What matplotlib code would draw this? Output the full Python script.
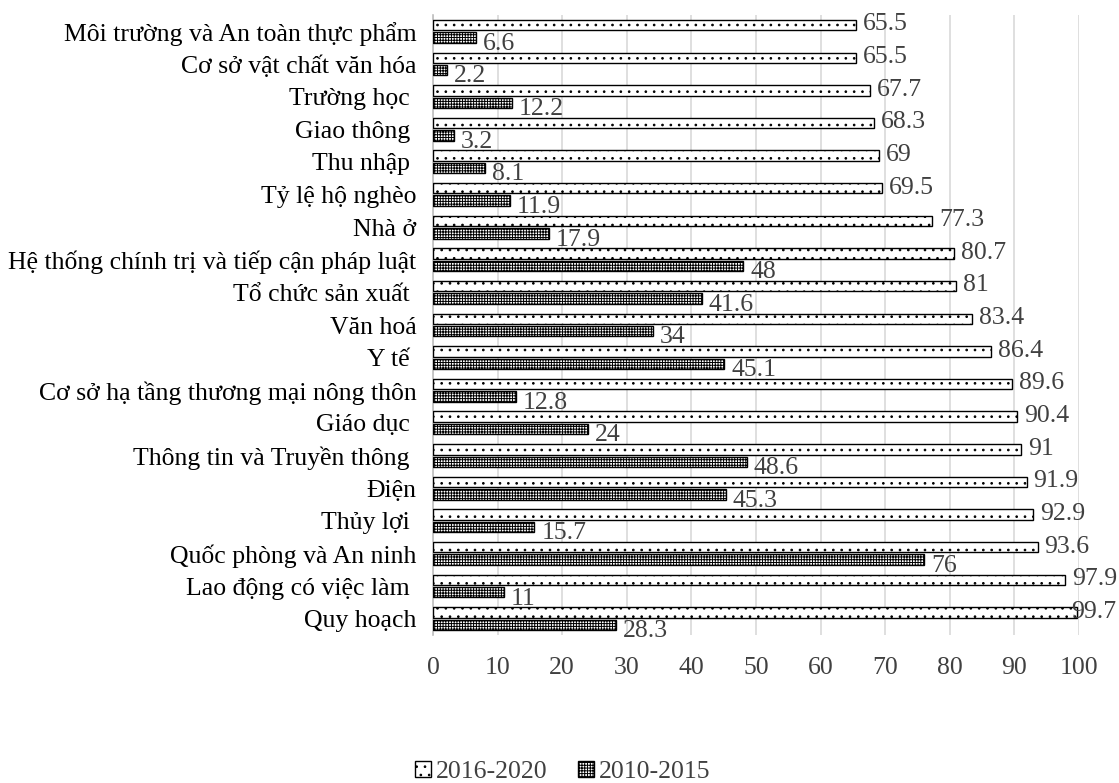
import matplotlib
matplotlib.use("Agg")
import matplotlib.pyplot as plt
from matplotlib.patches import Patch
import numpy as np

categories = [
    "Môi trường và An toàn thực phẩm",
    "Cơ sở vật chất văn hóa",
    "Trường học ",
    "Giao thông ",
    "Thu nhập ",
    "Tỷ lệ hộ nghèo",
    "Nhà ở",
    "Hệ thống chính trị và tiếp cận pháp luật",
    "Tổ chức sản xuất ",
    "Văn hoá",
    "Y tế ",
    "Cơ sở hạ tầng thương mại nông thôn",
    "Giáo dục ",
    "Thông tin và Truyền thông ",
    "Điện",
    "Thủy lợi ",
    "Quốc phòng và An ninh",
    "Lao động có việc làm ",
    "Quy hoạch",
]
vals_2016_2020 = [65.5, 65.5, 67.7, 68.3, 69, 69.5, 77.3, 80.7, 81, 83.4,
                  86.4, 89.6, 90.4, 91, 91.9, 92.9, 93.6, 97.9, 99.7]
vals_2010_2015 = [6.6, 2.2, 12.2, 3.2, 8.1, 11.9, 17.9, 48, 41.6, 34,
                  45.1, 12.8, 24, 48.6, 45.3, 15.7, 76, 11, 28.3]
series_names = ["2016-2020", "2010-2015"]

plt.rcParams["font.family"] = ["Liberation Serif", "DejaVu Serif"]
plt.rcParams["hatch.linewidth"] = 0.7
FS = 18.5

fig = plt.figure(figsize=(11.19, 7.83), dpi=100)
ax = fig.add_axes([433 / 1119, 1 - 635 / 783, (1079 - 433) / 1119, (635 - 15) / 783])

y = np.arange(len(categories))
h = 0.32
gap = 0.06
b1 = ax.barh(y - (h + gap) / 2, vals_2016_2020, height=h, color="white",
             edgecolor="black", linewidth=1.0, hatch=". .", zorder=3)
b2 = ax.barh(y + (h + gap) / 2, vals_2010_2015, height=h, color="white",
             edgecolor="black", linewidth=1.0, hatch="++++++", zorder=3)

for rect, v in zip(b1, vals_2016_2020):
    # labels near the right edge get pulled in so they stay on the canvas
    dx = 5 if v < 99 else -4
    ax.annotate(f"{v:g}", (rect.get_width(), rect.get_y() + rect.get_height() / 2),
                xytext=(dx, 0.5), textcoords="offset points", ha="left", va="center",
                fontsize=FS, color="#404040", annotation_clip=False)
for rect, v in zip(b2, vals_2010_2015):
    ax.annotate(f"{v:g}", (rect.get_width(), rect.get_y() + rect.get_height() / 2),
                xytext=(5, -4.5), textcoords="offset points", ha="left", va="center",
                fontsize=FS, color="#404040")

ax.set_ylim(len(categories) - 0.5, -0.5)
ax.set_xlim(0, 100)
ax.set_xticks(np.arange(0, 101, 10))
ax.set_yticks(y)
ax.set_yticklabels(categories, fontsize=FS)
ax.tick_params(axis="x", labelsize=FS, length=0, pad=16)
ax.tick_params(axis="y", length=0, pad=12)
for lbl in ax.get_xticklabels():
    lbl.set_color("#404040")

ax.grid(axis="x", color="#d9d9d9", linewidth=1.2, zorder=0)
for side in ["top", "right", "bottom"]:
    ax.spines[side].set_visible(False)
ax.spines["left"].set_color("#bfbfbf")
ax.spines["left"].set_linewidth(1.2)

handles = [Patch(facecolor="white", edgecolor="black", hatch=". .", label=series_names[0]),
           Patch(facecolor="white", edgecolor="black", hatch="++++++", label=series_names[1])]
fig.legend(handles=handles, loc="center", bbox_to_anchor=(563 / 1119, 1 - 772 / 783),
           ncol=2, frameon=False, fontsize=FS, handlelength=0.6, handleheight=0.6,
           handletextpad=0.2, columnspacing=1.2, labelcolor="#404040")

fig.savefig("out.png", dpi=100)
